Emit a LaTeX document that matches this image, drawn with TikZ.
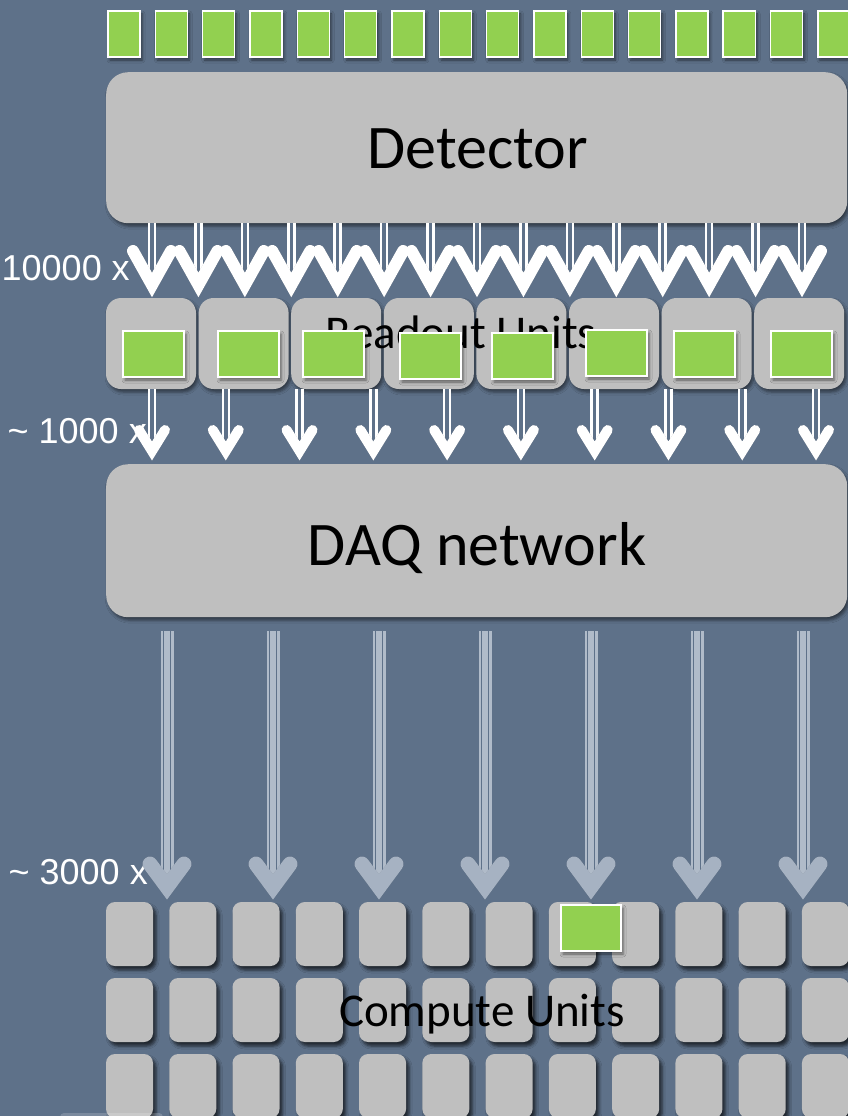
\documentclass[tikz,border=0pt]{standalone}
\usepackage{fontspec}
\setmainfont{Carlito}
\newfontfamily\arialfont{Liberation Sans}
\usetikzlibrary{shadows.blur}
\definecolor{bgc}{RGB}{94,113,137}
\definecolor{boxgray}{RGB}{191,191,191}
\definecolor{greenc}{RGB}{146,208,80}
\definecolor{garrow}{RGB}{166,178,194}
\definecolor{gshaftc}{RGB}{176,187,201}
\begin{document}
\begin{tikzpicture}[x=1pt,y=-1pt,
  shad/.style={blur shadow={shadow xshift=2pt, shadow yshift=-3pt, shadow blur radius=3pt, shadow opacity=50}},
  bigbox/.style={fill=boxgray, rounded corners=22pt, shad},
  rubox/.style={fill=boxgray, rounded corners=15pt, shad},
  cubox/.style={fill=boxgray, rounded corners=9pt, blur shadow={shadow xshift=3pt, shadow yshift=-4pt, shadow blur radius=3pt, shadow opacity=65}},
  greensq/.style={fill=greenc, draw=white, line width=1.6pt, shad},
  bigtext/.style={font=\fontsize{62}{62}\selectfont, text=black, inner sep=0pt},
  midtext/.style={font=\fontsize{47}{47}\selectfont, text=black, inner sep=0pt},
  lbl/.style={font=\arialfont\fontsize{36}{36}\selectfont, text=white, inner sep=0pt},
  wshaft/.style={draw=white, double=bgc, double distance=3.5pt, line width=2.5pt},
  whead/.style={draw=white, line cap=round, line join=miter},
  hshadow/.style={draw=black, opacity=0.25, line cap=round, line join=miter, xshift=2pt, yshift=-3pt},
  gshaft/.style={draw=gshaftc, line width=13pt},
  gline/.style={draw=bgc, line width=0.9pt},
  ghead/.style={draw=garrow, line width=15pt, line cap=round, line join=miter}
]
\useasboundingbox (0,0) rectangle (848,1116);
\fill[bgc] (0,0) rectangle (848,1116);

% top green squares
\foreach \i in {0,...,15}{
  \pgfmathsetmacro\xx{108+47.33*\i}
  \path[greensq] (\xx,11) rectangle ++(32,46);
}

% Detector
\node[bigbox, minimum width=741pt, minimum height=151pt, anchor=north west, inner sep=0pt] (det) at (106,72) {};
\node[bigtext, anchor=base] (dettext) at (478,168) {Detector};

% upper arrows detector -> readout
\foreach \i in {0,...,14}{
  \pgfmathsetmacro\xx{152+46.43*\i}
  \coordinate (ua\i) at (\xx,223);
  \coordinate (ub\i) at (\xx,285);
  \draw[wshaft] (ua\i) -- (ub\i);
}
\foreach \i in {0,...,14}{
  \draw[hshadow, line width=12pt] (ub\i) ++(-19,-34) -- (ub\i) -- ++(19,-34);
}
\foreach \i in {0,...,14}{
  \draw[whead, line width=12pt] (ub\i) ++(-19,-34) -- (ub\i) -- ++(19,-34);
}

% Readout units
\foreach \k in {0,...,7}{
  \pgfmathsetmacro\xx{106+92.6*\k}
  \path[rubox] (\xx,298) rectangle ++(90,91);
}
\node[midtext, anchor=base] (rutext) at (461,348) {Readout Units};
\foreach \xx/\yy in {123/331,218/331,303/331,400/333,492/333,586/330,674/331,771/331}{
  \path[greensq] (\xx,\yy) rectangle ++(61,46);
}

% middle arrows readout -> DAQ
\foreach \i in {0,...,9}{
  \pgfmathsetmacro\xx{152+73.78*\i}
  \coordinate (ma\i) at (\xx,389);
  \coordinate (mb\i) at (\xx,451);
  \draw[wshaft] (ma\i) -- (mb\i);
}
\foreach \i in {0,...,9}{
  \draw[hshadow, line width=10pt] (mb\i) ++(-13,-21) -- (mb\i) -- ++(13,-21);
  \draw[whead, line width=10pt] (mb\i) ++(-13,-21) -- (mb\i) -- ++(13,-21);
}

% DAQ network
\node[bigbox, minimum width=741pt, minimum height=153pt, anchor=north west, inner sep=0pt] (daq) at (106,464) {};
\node[bigtext, anchor=base] (daqtext) at (477,565) {DAQ network};

% labels
\node[lbl, anchor=base east] (l1) at (130,280) {10000 x};
\node[lbl, anchor=base east] (l2) at (147,443) {\textasciitilde{} 1000 x};
\node[lbl, anchor=base east] (l3) at (148,884) {\textasciitilde{} 3000 x};

% lower arrows DAQ -> compute
\foreach \i in {0,...,6}{
  \pgfmathsetmacro\xx{167+106*\i}
  \coordinate (ga\i) at (\xx,631);
  \coordinate (gb\i) at (\xx,887);
  \draw[gshaft] (ga\i) -- ([yshift=8pt]gb\i);
  \draw[gline] ([xshift=-3.3pt]ga\i) -- ([xshift=-3.3pt,yshift=8pt]gb\i);
  \draw[gline] ([xshift=3.3pt]ga\i) -- ([xshift=3.3pt,yshift=8pt]gb\i);
  \draw[hshadow, line width=15pt, opacity=0.18] (gb\i) ++(-17,-23) -- (gb\i) -- ++(17,-23);
  \draw[ghead] (gb\i) ++(-17,-23) -- (gb\i) -- ++(17,-23);
}

% compute units grid
\foreach \r in {0,1,2}{
  \foreach \c in {0,...,11}{
    \pgfmathsetmacro\xx{106+63.27*\c}
    \pgfmathsetmacro\yy{902+76*\r}
    \path[cubox] (\xx,\yy) rectangle ++(47,64);
  }
}
\path[greensq] (561,905) rectangle (621,951);
\node[midtext, anchor=base] (cutext) at (482,1026) {Compute Units};

% faint shape at bottom left edge
\fill[white, opacity=0.18, rounded corners=4pt] (60,1113) rectangle (163,1122);
\end{tikzpicture}
\end{document}
